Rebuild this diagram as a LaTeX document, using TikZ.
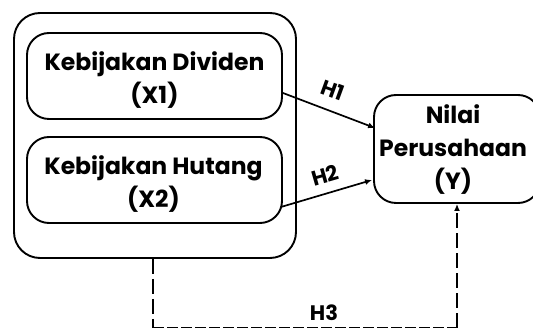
\documentclass[tikz,border=0pt]{standalone}
\usepackage{fontspec}
\setmainfont{Poppins}
\usetikzlibrary{arrows.meta,calc}
\begin{document}
\begin{tikzpicture}[x=1pt,y=-1pt,
  box/.style={draw,line width=1.9pt,rounded corners=22pt,inner sep=0pt},
  txt/.style={align=center,inner sep=0pt,font=\fontsize{23.5}{33}\selectfont\bfseries},
  conn/.style={line width=1.7pt,-{Latex[length=7pt,width=6pt]}},
  dconn/.style={line width=1.7pt,dash pattern=on 15pt off 5pt},
  lab/.style={font=\fontsize{21}{24}\selectfont\bfseries,inner sep=0pt}]
\useasboundingbox (0,0) rectangle (533,328);
\node[box,rounded corners=26pt,minimum width=282pt,minimum height=245pt] (grp) at (155,135.5) {};
\node[box,minimum width=255pt,minimum height=86pt] (x1) at (154.5,76) {};
\node[box,minimum width=255pt,minimum height=86pt] (x2) at (154.5,180) {};
\node[box,minimum width=166pt,minimum height=108pt] (y) at (457,149) {};
\node[txt] (x1t) at ($(x1)+(0,4)$) {Kebijakan Dividen\\(X1)};
\node[txt] (x2t) at ($(x2)+(-1,4)$) {Kebijakan Hutang\\(X2)};
\node[txt] (yt) at ($(y)+(-4,1)$) {Nilai\\Perusahaan\\(Y)};
\coordinate (c1) at (153,328);
\coordinate (c2) at (457,328);
\draw[conn] ($(x1.east)+(0,17)$) -- ($(y.west)+(2,-21)$);
\draw[conn] ($(x2.east)+(-2,27)$) -- ($(y.west)+(-1,31)$);
\node[lab,rotate=-20] (h1) at (333,90) {H1};
\node[lab,rotate=16] (h2) at (325,175) {H2};
\draw[dconn] (grp.south -| c1) -- (c1);
\draw[dconn,dash pattern=on 11pt off 3pt] (c1) -- (c2);
\node[lab] (h3) at (324,313) {H3};
\draw[dconn,-{Latex[length=7pt,width=6pt]}] (c2) -- (y.south);
\end{tikzpicture}
\end{document}
